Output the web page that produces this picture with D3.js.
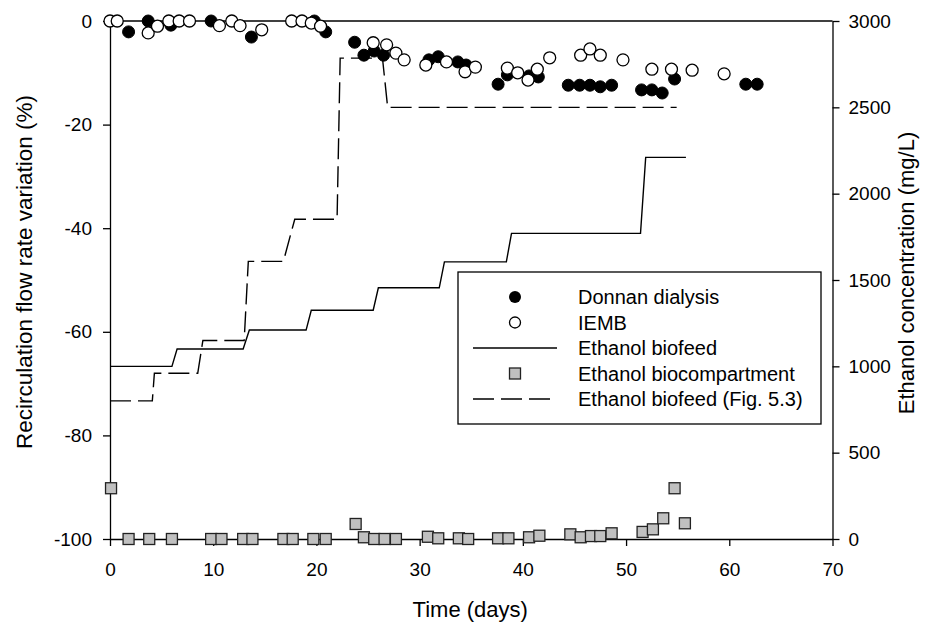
<!DOCTYPE html>
<html>
<head>
<meta charset="utf-8">
<script src="https://cdn.jsdelivr.net/npm/d3@7"></script>
<style>
  html, body { margin: 0; padding: 0; background: #fff; }
  svg { display: block; font-family: "Liberation Sans", Arial, Helvetica, sans-serif; }
</style>
</head>
<body>
<svg id="chart" width="940" height="622"></svg>
<script>
// ---------- DATA ----------
const xTicks = [0, 10, 20, 30, 40, 50, 60, 70];
const leftTicks = [0, -20, -40, -60, -80, -100];
const rightTicks = [0, 500, 1000, 1500, 2000, 2500, 3000];

// Donnan dialysis (left axis, %)
const donnanDays = [1.8, 3.7, 5.9, 9.8, 13.7, 19.8, 20.9, 23.7, 24.6, 25.6, 26.5, 30.9, 31.8, 33.7, 34.5, 37.6, 38.5, 40.6, 41.5, 44.4, 45.5, 46.5, 47.5, 48.6, 51.5, 52.5, 53.5, 54.7, 61.6, 62.7];
const donnanVals = [-2.1, 0, -0.8, 0, -3.1, 0, -2.1, -4.1, -6.6, -5.8, -6.6, -7.5, -6.9, -7.9, -8.5, -12.2, -10.4, -10.6, -10.8, -12.4, -12.4, -12.4, -12.7, -12.4, -13.3, -13.3, -13.9, -11.2, -12.2, -12.2];

// IEMB (left axis, %)
const iembDays = [0, 0.7, 3.7, 4.6, 5.7, 6.7, 7.7, 10.6, 11.8, 12.6, 14.7, 17.6, 18.6, 19.5, 20.4, 25.5, 26.8, 27.7, 28.5, 30.6, 32.6, 34.4, 35.4, 38.5, 39.5, 40.5, 41.4, 42.6, 45.6, 46.5, 47.5, 49.7, 52.5, 54.4, 56.4, 59.5];
const iembVals = [0, 0, -2.3, -1.0, 0, 0, 0, -0.9, 0, -0.9, -1.7, 0, 0, -0.4, -1.0, -4.2, -4.6, -6.2, -7.5, -8.5, -7.9, -9.8, -8.9, -9.1, -10.0, -11.4, -9.3, -7.1, -6.6, -5.4, -6.6, -7.5, -9.3, -9.3, -9.5, -10.2];

// Ethanol biofeed (right axis, mg/L)
const biofeedDays = [0, 6.0, 6.5, 12.9, 13.5, 19.0, 19.5, 25.5, 26.0, 31.9, 32.4, 38.4, 38.9, 51.4, 51.9, 55.8];
const biofeedVals = [1000, 1000, 1100, 1100, 1210, 1210, 1325, 1325, 1455, 1455, 1605, 1605, 1770, 1770, 2210, 2210];

// Ethanol biocompartment (right axis, mg/L)
const biocompDays = [0.1, 1.8, 3.8, 6.0, 9.8, 10.8, 12.9, 13.8, 16.8, 17.7, 19.7, 20.9, 23.8, 24.6, 25.6, 26.6, 27.7, 30.8, 31.8, 33.8, 34.7, 37.6, 38.6, 40.6, 41.6, 44.6, 45.6, 46.6, 47.5, 48.6, 51.6, 52.6, 53.6, 54.7, 55.7];
const biocompVals = [294, 0, 0, 0, 0, 0, 0, 0, 0, 0, 0, 0, 87, 10, 0, 0, 0, 13, 4, 4, 0, 4, 4, 10, 19, 27, 10, 17, 17, 33, 41, 56, 120, 294, 91];

// Ethanol biofeed (Fig. 5.3) (right axis, mg/L)
const fig53Days = [0, 4.1, 4.3, 8.5, 9.0, 13.0, 13.4, 16.8, 17.9, 22.0, 22.3, 26.4, 26.9, 54.9];
const fig53Vals = [800, 800, 960, 960, 1150, 1150, 1608, 1608, 1852, 1852, 2785, 2785, 2500, 2500];

const legendLabels = ["Donnan dialysis", "IEMB", "Ethanol biofeed", "Ethanol biocompartment", "Ethanol biofeed (Fig. 5.3)"];

// ---------- LAYOUT ----------
const L = 110, R = 832.5, T = 21, B = 539;
const svg = d3.select("#chart");

const x = d3.scaleLinear().domain([0, 70]).range([L, R]);
const yL = d3.scaleLinear().domain([-100, 0]).range([B, T]);
const yR = d3.scaleLinear().domain([0, 3000]).range([B, T]);

const tickFont = 19;
const plain = d => String(d);

// frame (top line)
svg.append("line").attr("x1", L).attr("x2", R).attr("y1", T).attr("y2", T)
  .attr("stroke", "#000").attr("stroke-width", 1.3);

// Axes
const gx = svg.append("g").attr("transform", `translate(0,${B})`)
  .call(d3.axisBottom(x).tickValues(xTicks).tickFormat(plain).tickSize(7).tickPadding(17).tickSizeOuter(0));
const gl = svg.append("g").attr("transform", `translate(${L},0)`)
  .call(d3.axisLeft(yL).tickValues(leftTicks).tickFormat(plain).tickSize(7).tickPadding(11).tickSizeOuter(0));
const gr = svg.append("g").attr("transform", `translate(${R},0)`)
  .call(d3.axisRight(yR).tickValues(rightTicks).tickFormat(plain).tickSize(7).tickPadding(9).tickSizeOuter(0));

[gx, gl, gr].forEach(g => {
  g.selectAll(".domain").attr("stroke", "#000").attr("stroke-width", 1.3);
  g.selectAll(".tick line").attr("stroke", "#000").attr("stroke-width", 1.3);
  g.selectAll(".tick text").attr("fill", "#000").style("font-size", tickFont + "px")
    .style("font-family", '"Liberation Sans", Arial, sans-serif');
});

// Axis titles
svg.append("text").attr("x", (L + R) / 2 - 1).attr("y", 617)
  .attr("text-anchor", "middle").style("font-size", "22px").text("Time (days)");
svg.append("text").attr("transform", "translate(32,272) rotate(-90)")
  .attr("text-anchor", "middle").style("font-size", "22.5px").text("Recirculation flow rate variation (%)");
svg.append("text").attr("transform", "translate(914,273) rotate(-90)")
  .attr("text-anchor", "middle").style("font-size", "22px").text("Ethanol concentration (mg/L)");

// Lines
const lineR = d3.line().x(d => x(d[0])).y(d => yR(d[1]));
const biofeed = biofeedDays.map((d, i) => [d, biofeedVals[i]]);
const fig53 = fig53Days.map((d, i) => [d, fig53Vals[i]]);

svg.append("path").datum(fig53).attr("d", lineR)
  .attr("fill", "none").attr("stroke", "#000").attr("stroke-width", 1.4)
  .attr("stroke-dasharray", "21,7");
svg.append("path").datum(biofeed).attr("d", lineR)
  .attr("fill", "none").attr("stroke", "#000").attr("stroke-width", 1.4);

// Squares (biocompartment)
const sq = 11;
svg.append("g").selectAll("rect").data(biocompDays.map((d, i) => [d, biocompVals[i]]))
  .join("rect")
  .attr("x", d => x(d[0]) - sq / 2).attr("y", d => yR(d[1]) - sq / 2)
  .attr("width", sq).attr("height", sq)
  .attr("fill", "#c0c0c0").attr("stroke", "#222").attr("stroke-width", 1.3);

// Circles
const r = 6;
svg.append("g").selectAll("circle").data(donnanDays.map((d, i) => [d, donnanVals[i]]))
  .join("circle")
  .attr("cx", d => x(d[0])).attr("cy", d => yL(d[1])).attr("r", r)
  .attr("fill", "#000").attr("stroke", "#000").attr("stroke-width", 1);
svg.append("g").selectAll("circle").data(iembDays.map((d, i) => [d, iembVals[i]]))
  .join("circle")
  .attr("cx", d => x(d[0])).attr("cy", d => yL(d[1])).attr("r", r)
  .attr("fill", "#fff").attr("stroke", "#000").attr("stroke-width", 1.3);

// Legend
const lg = svg.append("g");
lg.append("rect").attr("x", 458).attr("y", 272).attr("width", 363).attr("height", 152)
  .attr("fill", "#fff").attr("stroke", "#000").attr("stroke-width", 1.3);
const rowY = i => 297 + i * 25.5;
const symX = 515, lineX1 = 473, lineX2 = 557, textX = 578;
lg.append("circle").attr("cx", symX).attr("cy", rowY(0)).attr("r", 6).attr("fill", "#000");
lg.append("circle").attr("cx", symX).attr("cy", rowY(1)).attr("r", 5.5).attr("fill", "#fff")
  .attr("stroke", "#000").attr("stroke-width", 1.3);
lg.append("line").attr("x1", lineX1).attr("x2", lineX2).attr("y1", rowY(2)).attr("y2", rowY(2))
  .attr("stroke", "#000").attr("stroke-width", 1.4);
lg.append("rect").attr("x", symX - 5.5).attr("y", rowY(3) - 5.5).attr("width", 11).attr("height", 11)
  .attr("fill", "#c0c0c0").attr("stroke", "#222").attr("stroke-width", 1.3);
lg.append("line").attr("x1", lineX1).attr("x2", lineX2).attr("y1", rowY(4)).attr("y2", rowY(4))
  .attr("stroke", "#000").attr("stroke-width", 1.4).attr("stroke-dasharray", "21,7");
legendLabels.forEach((t, i) => {
  lg.append("text").attr("x", textX).attr("y", rowY(i)).attr("dy", "0.35em")
    .style("font-size", "20px").text(t);
});
</script>
</body>
</html>
